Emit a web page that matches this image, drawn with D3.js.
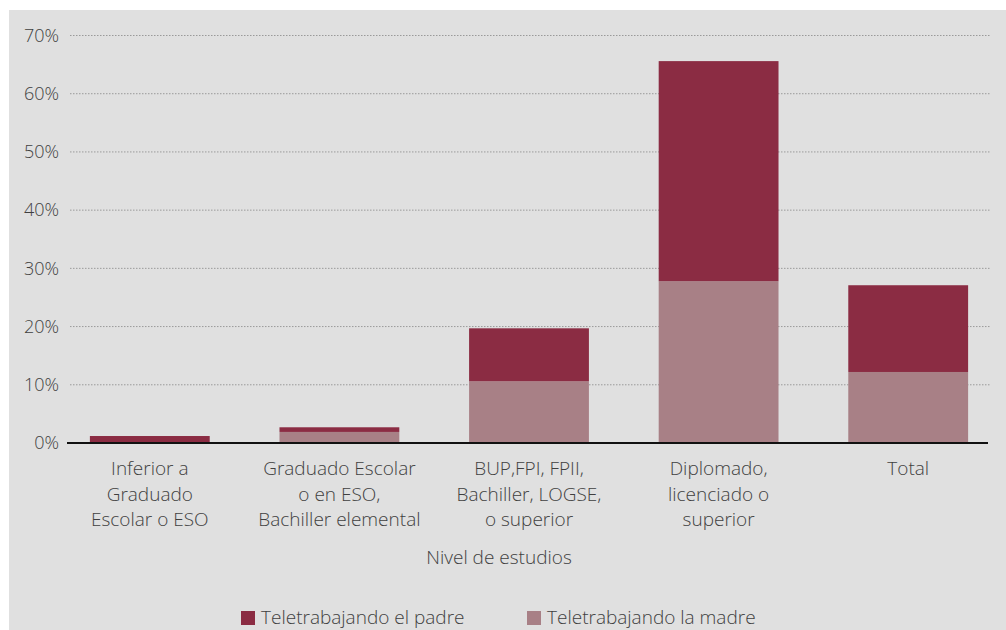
<!DOCTYPE html>
<html>
<head>
<meta charset="utf-8">
<script src="https://cdn.jsdelivr.net/npm/d3@7"></script>
<style>
  body { margin: 0; background: #fff; }
  svg { display: block; font-family: "Open Sans", Lato, sans-serif; }
</style>
</head>
<body>
<svg id="chart" width="1006" height="630"></svg>
<script>
// categories (multi-line labels)
const categories = [
  ["Inferior a", "Graduado", "Escolar o ESO"],
  ["Graduado Escolar", "o en ESO,", "Bachiller elemental"],
  ["BUP,FPI, FPII,", "Bachiller, LOGSE,", "o superior"],
  ["Diplomado,", "licenciado o", "superior"],
  ["Total"]
];
const madre = [0.0, 1.9, 10.6, 27.8, 12.2];
const padre = [1.2, 0.8, 9.1, 37.8, 14.9];
const seriesNames = ["Teletrabajando el padre", "Teletrabajando la madre"];
const yTicks = [0, 10, 20, 30, 40, 50, 60, 70];

const svg = d3.select('#chart');
const colors = { padre: '#8b2c43', madre: '#a88086' };
const textColor = '#3f3f3f';

svg.append('rect')
  .attr('x', 9).attr('y', 10)
  .attr('width', 997).attr('height', 620)
  .attr('fill', '#e0e0e0');

const keys = categories.map((c, i) => i);
const x = d3.scaleBand()
  .domain(keys)
  .range([55, 1003])
  .paddingInner(0.368)
  .paddingOuter(0.184);

const y = d3.scaleLinear()
  .domain([0, 70])
  .range([443, 35.5]);

// gridlines
svg.append('g')
  .selectAll('line')
  .data(yTicks.filter(t => t > 0))
  .enter().append('line')
  .attr('x1', 70).attr('x2', 990)
  .attr('y1', d => y(d)).attr('y2', d => y(d))
  .attr('stroke', '#9a9a9a')
  .attr('stroke-width', 1)
  .attr('stroke-dasharray', '1.5,1.5');

// y labels
svg.append('g')
  .selectAll('text')
  .data(yTicks)
  .enter().append('text')
  .attr('x', 59)
  .attr('y', d => y(d))
  .attr('dy', '0.35em')
  .attr('text-anchor', 'end')
  .attr('fill', textColor)
  .attr('font-size', 18)
  .attr('font-weight', 300)
  .text(d => d + '%');

// stacked bars
const stackData = keys.map(i => ({ i, madre: madre[i], padre: padre[i] }));
const stacked = d3.stack().keys(['madre', 'padre'])(stackData);

svg.append('g')
  .selectAll('g')
  .data(stacked)
  .enter().append('g')
  .attr('fill', d => colors[d.key])
  .selectAll('rect')
  .data(d => d)
  .enter().append('rect')
  .attr('x', d => x(d.data.i))
  .attr('width', x.bandwidth())
  .attr('y', d => y(d[1]))
  .attr('height', d => y(d[0]) - y(d[1]));

// zero axis
svg.append('line')
  .attr('x1', 67).attr('x2', 988)
  .attr('y1', y(0)).attr('y2', y(0))
  .attr('stroke', '#111')
  .attr('stroke-width', 2);

// category labels
const catG = svg.append('g')
  .selectAll('text')
  .data(categories)
  .enter().append('text')
  .attr('x', (d, i) => x(i) + x.bandwidth() / 2)
  .attr('y', 475)
  .attr('text-anchor', 'middle')
  .attr('fill', textColor)
  .attr('font-size', 19)
  .attr('font-weight', 300);

catG.selectAll('tspan')
  .data(d => d)
  .enter().append('tspan')
  .attr('x', function () { return d3.select(this.parentNode).attr('x'); })
  .attr('dy', (d, j) => j === 0 ? 0 : 25.5)
  .text(d => d);

// axis title
svg.append('text')
  .attr('x', 499).attr('y', 564)
  .attr('text-anchor', 'middle')
  .attr('fill', textColor)
  .attr('font-size', 19)
  .attr('font-weight', 300)
  .text('Nivel de estudios');

// legend
const legend = [
  { name: seriesNames[0], color: colors.padre, x: 241 },
  { name: seriesNames[1], color: colors.madre, x: 527 }
];
const lg = svg.append('g')
  .selectAll('g')
  .data(legend)
  .enter().append('g')
  .attr('transform', d => `translate(${d.x},611)`);
lg.append('rect')
  .attr('width', 14).attr('height', 14)
  .attr('fill', d => d.color);
lg.append('text')
  .attr('x', 20).attr('y', 13)
  .attr('fill', textColor)
  .attr('font-size', 19)
  .attr('font-weight', 300)
  .text(d => d.name);
</script>
</body>
</html>
